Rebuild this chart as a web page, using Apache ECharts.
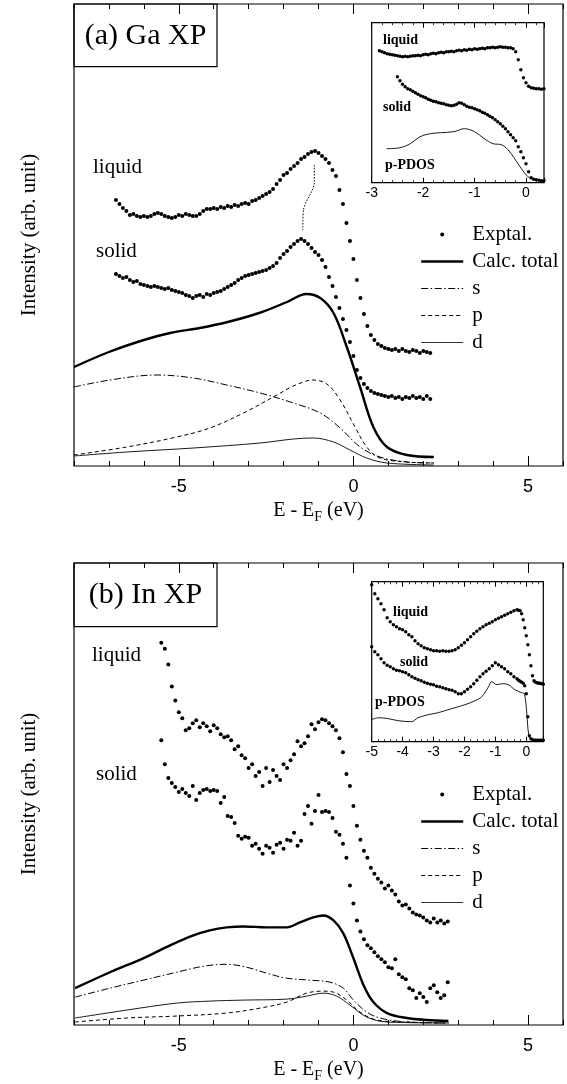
<!DOCTYPE html>
<html><head><meta charset="utf-8">
<script src="https://cdn.jsdelivr.net/npm/echarts@6/dist/echarts.min.js"></script>
<style>html,body{margin:0;padding:0;background:#fff}#c{width:567px;height:1084px}</style>
</head><body><div id="c"></div>
<script>
// ---------- Panel (a) Ga XP : experimental spectra (0.1 eV grid) ----------
const energyA = [-6.8,-6.7,-6.6,-6.5,-6.4,-6.3,-6.2,-6.1,-6.0,-5.9,-5.8,-5.7,-5.6,-5.5,-5.4,-5.3,-5.2,-5.1,-5.0,-4.9,-4.8,-4.7,-4.6,-4.5,-4.4,-4.3,-4.2,-4.1,-4.0,-3.9,-3.8,-3.7,-3.6,-3.5,-3.4,-3.3,-3.2,-3.1,-3.0,-2.9,-2.8,-2.7,-2.6,-2.5,-2.4,-2.3,-2.2,-2.1,-2.0,-1.9,-1.8,-1.7,-1.6,-1.5,-1.4,-1.3,-1.2,-1.1,-1.0,-0.9,-0.8,-0.7,-0.6,-0.5,-0.4,-0.3,-0.2,-0.1,0.0,0.1,0.2,0.3,0.4,0.5,0.6,0.7,0.8,0.9,1.0,1.1,1.2,1.3,1.4,1.5,1.6,1.7,1.8,1.9,2.0,2.1,2.2];
const liquidA = [266,262,258,255,251,252,250,249,250,249,250,252,253,252,250,249,248,249,251,250,252,251,250,250,252,255,257,257,258,257,259,258,260,259,261,260,262,263,262,265,266,268,270,272,274,277,282,286,291,293,297,300,303,307,309,312,314,315,313,310,307,303,296,290,276,262,243,225,207,186,168,152,140,131,126,122,120,118,117,116,117,115,117,115,114,116,115,113,115,114,113];
const solidA = [192,190,188,189,186,184,185,182,181,180,179,180,179,178,177,178,176,175,174,173,171,170,168,170,171,169,172,171,173,174,175,177,179,181,183,186,188,190,191,192,193,194,195,196,198,200,203,208,212,215,219,222,225,227,225,222,218,214,211,206,199,189,180,169,158,147,136,124,110,96,88,82,78,75,73,72,71,70,69,70,68,69,67,69,68,70,68,69,67,70,67];
// peak-shift guide (dotted)
const guideE = [-1.12,-1.12,-1.43,-1.45];
const guideI = [301,284,256,236];
// calculated DOS (a)
const totalAE = [-8,-7,-6,-5.25,-4.4,-3.6,-2.7,-1.9,-1.35,-0.95,-0.57,-0.19,0.19,0.57,0.96,1.53,2.3];
const totalAI = [99,114,126,133,138,144,153,164,172,168,153,119,79,39,19,11,9];
const sAE = [-8,-6.97,-5.63,-4.58,-3.63,-2.67,-1.72,-0.95,-0.38,0.19,0.76,1.53,2.3];
const sAI = [79,86,91,88,81,73,63,53,38,19,9,4,3];
const pAE = [-8,-6.49,-5.06,-4.11,-3.15,-2.19,-1.72,-1.15,-0.76,-0.38,0,0.38,0.76,1.53,2.3];
const pAI = [11,19,29,38,53,71,80,86,82,66,42,19,8,4,3];
const dAE = [-8,-6.49,-4.58,-2.67,-1.72,-1.15,-0.57,-0.1,0.38,0.96,2.3];
const dAI = [10,14,18,23,27,28,24,16,8,3,1];
// inset (a)
const insetEnergyA = [-2.85,-2.8,-2.75,-2.7,-2.65,-2.6,-2.55,-2.5,-2.45,-2.4,-2.35,-2.3,-2.25,-2.2,-2.15,-2.1,-2.05,-2.0,-1.95,-1.9,-1.85,-1.8,-1.75,-1.7,-1.65,-1.6,-1.55,-1.5,-1.45,-1.4,-1.35,-1.3,-1.25,-1.2,-1.15,-1.1,-1.05,-1.0,-0.95,-0.9,-0.85,-0.8,-0.75,-0.7,-0.65,-0.6,-0.55,-0.5,-0.45,-0.4,-0.35,-0.3,-0.25,-0.2,-0.15,-0.1,-0.05,0.0,0.05,0.1,0.15,0.2,0.25,0.3,0.35];
const insetLiquidA = [132,131,130,129,128.5,128,127.5,127,126.5,126,126.5,126,126.5,127,127,127.5,127,128,128.5,128,129,129.5,129,130,130.5,130,131,131,131.5,131,132,132.5,132,133,132.5,133.5,133,134,133.5,134,134.5,134,135,135,135.5,135,135.5,136,135.5,135.5,135,135,134,131,123,113,105,100,96.5,95,94.5,94,94,93.5,94];
const insetSolidA = [106,102,98.5,96,94,93,91.5,90,88.5,87,86,85,83.5,82.5,81.5,81,80,79.5,79,78,77.5,77,77.5,78.5,80,79.5,78,76.5,75.5,75,74,73,72,70.5,69.5,68,66.5,65,63,61,59,56.5,54,51,48,45,42,36,31,25,19,11,5,3.5,3,2.5,2,2];
const pdosAE = [-2.71,-2.45,-2.25,-2.06,-1.86,-1.66,-1.4,-1.2,-1.0,-0.81,-0.64,-0.48,-0.35,-0.22,-0.09,0.04,0.17,0.35];
const pdosAI = [34,35,39,46,49,50,51,54,51,44,39,38,33,24,14,6,3,2];

// ---------- Panel (b) In XP ----------
const energyB = [-5.5,-5.4,-5.3,-5.2,-5.1,-5.0,-4.9,-4.8,-4.7,-4.6,-4.5,-4.4,-4.3,-4.2,-4.1,-4.0,-3.9,-3.8,-3.7,-3.6,-3.5,-3.4,-3.3,-3.2,-3.1,-3.0,-2.9,-2.8,-2.7,-2.6,-2.5,-2.4,-2.3,-2.2,-2.1,-2.0,-1.9,-1.8,-1.7,-1.6,-1.5,-1.4,-1.3,-1.2,-1.1,-1.0,-0.9,-0.8,-0.7,-0.6,-0.5,-0.4,-0.3,-0.2,-0.1,0.0,0.1,0.2,0.3,0.4,0.5,0.6,0.7,0.8,0.9,1.0,1.1,1.2,1.3,1.4,1.5,1.6,1.7,1.8,1.9,2.0,2.1,2.2,2.3,2.4,2.5,2.6,2.7];
const liquidB = [384,378,362,340,326,314,308,296,298,303,306,299,303,300,295,301,298,292,289,290,286,277,280,271,268,258,262,250,254,240,258,244,256,250,246,262,258,266,272,285,280,283,290,302,297,304,307,306,303,300,296,288,274,252,240,220,200,186,175,168,158,152,147,143,137,140,135,131,124,120,121,117,113,111,110,108,105,103,107,103,105,102,104];
const solidB = [286,262,248,243,239,234,237,233,230,240,226,233,236,237,235,236,235,223,229,210,209,203,190,187,189,188,180,182,177,172,180,178,173,181,183,177,186,185,193,180,185,212,220,202,215,231,214,215,214,208,194,191,182,168,140,122,105,94,86,80,77,73,69,66,63,58,57,66,51,48,46,37,35,27,32,28,23,37,40,33,27,30,43];
const totalBE = [-7.97,-6.97,-6.02,-5.25,-4.58,-4.11,-3.63,-3.15,-2.48,-1.91,-1.53,-1.15,-0.86,-0.57,-0.29,0,0.29,0.57,0.96,1.53,2.1,2.72];
const totalBI = [37,53,67,80,90,95,98,99,98,98,103,108,110,105,92,67,40,23,12,7,5,4];
const sBE = [-7.97,-6.97,-6.02,-5.06,-4.3,-3.63,-3.05,-2.48,-1.91,-1.24,-0.67,-0.29,0,0.38,0.76,1.53,2.72];
const sBI = [28,37,45,53,59,61,58,52,47,45,43,37,25,13,7,3,2];
const pBE = [-7.97,-6.49,-5.06,-3.63,-2.67,-1.91,-1.34,-0.86,-0.57,-0.19,0.19,0.67,1.53,2.72];
const pBI = [3,7,9,12,17,23,32,34,33,25,13,5,3,2];
const dBE = [-7.97,-6.49,-5.06,-4.11,-3.15,-1.91,-1.34,-0.86,-0.48,-0.1,0.38,0.96,2.72];
const dBI = [7,15,22,24,25,26,29,32,29,20,8,3,2];
// inset (b)
const insetEnergyB = [-5.0,-4.9,-4.8,-4.7,-4.6,-4.5,-4.4,-4.3,-4.2,-4.1,-4.0,-3.9,-3.8,-3.7,-3.6,-3.5,-3.4,-3.3,-3.2,-3.1,-3.0,-2.9,-2.8,-2.7,-2.6,-2.5,-2.4,-2.3,-2.2,-2.1,-2.0,-1.9,-1.8,-1.7,-1.6,-1.5,-1.4,-1.3,-1.2,-1.1,-1.0,-0.9,-0.8,-0.7,-0.6,-0.5,-0.4,-0.3,-0.25,-0.2,-0.15,-0.1,-0.05,0.0,0.05,0.1,0.15,0.2,0.25,0.3,0.35,0.4,0.45,0.5,0.55];
const insetLiquidB = [157,148,143,138,132,124,120,117,115,113,112,110,107,105,101,98,96,94,93,92,91,91,90.5,91,90.5,90.5,91,92,94,96.5,99,102,105,108,110.5,113,115,117,118.5,120,122,123.5,125,126.5,128,129.5,131,132,131.5,131,128,122,114,106,97,87,76,66,61,59.5,59,58.5,58.5,58,57.5];
const insetSolidB = [95,90,87,83,79,76.5,75,73,71.5,71,70,69,67,65,63.5,62,61,59.5,58.5,57.5,57,55.5,55,54,53,52,51.5,50,48,48,50,52.5,55,58,61.5,65,68,70.5,73,76,79,77,75,73,70,68,65,63,61.5,60.5,59.5,58.5,56,48,25,6,3,2,1.5,1.5,1.5,1.5,1.5,1.5,1.5];
const pdosBE = [-5,-4.78,-4.46,-4.14,-3.71,-3.5,-3.17,-2.85,-2.42,-1.98,-1.66,-1.44,-1.22,-1.12,-0.95,-0.79,-0.58,-0.37,-0.15,-0.06,0.02,0.08,0.18,0.55];
const pdosBI = [22,24,23,21,20,24,27,29,33,37,41,45,55,60,57,58,57,52,49,48,27,7,2,2];

// tick labels
const mainTicks = [-5,0,5];
const legendNames = ['Exptal.','Calc. total','s','p','d'];

// ---------- build ----------
const SERIF = 'Liberation Serif';
const SANS = 'Liberation Sans';
const pairs = (xs, ys) => xs.map((x, i) => [x, ys[i]]);
const blk = '#000';
const dashDot = [7, 2.5, 1.5, 2.5];
const dashP = [4, 3];

function mainX(grid, pos, major, withLabel) {
  const ax = {
    gridIndex: grid, type: 'value', min: -8, max: 6, position: pos,
    axisLine: {show: false}, splitLine: {show: false},
    axisTick: {show: true, inside: true, length: major ? 10 : 5, lineStyle: {color: blk, width: 1}},
    axisLabel: {show: false}
  };
  if (major) {
    ax.axisTick.customValues = mainTicks;
    if (withLabel) {
      ax.axisLabel = {show: true, customValues: mainTicks, margin: 12, fontSize: 18, fontFamily: SANS, color: blk};
      ax.name = '{m|E - E}{sub|F}{m| (eV)}';
      ax.nameLocation = 'middle';
      ax.nameGap = 32;
      ax.nameTextStyle = {fontFamily: SERIF, fontSize: 20, color: blk, lineHeight: 26,
        rich: {
          m: {fontFamily: SERIF, fontSize: 20, lineHeight: 26, color: blk},
          sub: {fontFamily: SERIF, fontSize: 14, lineHeight: 14, verticalAlign: 'bottom', color: blk}
        }};
    }
  } else {
    ax.interval = 1;
  }
  return ax;
}
function insetX(grid, pos, min, max, withLabel) {
  return {
    gridIndex: grid, type: 'value', min: min, max: max, interval: 1, position: pos,
    axisLine: {show: false}, splitLine: {show: false},
    axisTick: {show: true, inside: true, length: 5, lineStyle: {color: blk, width: 1}},
    minorTick: {show: true, splitNumber: 5, length: 2.5, lineStyle: {color: blk, width: 0.8}},
    axisLabel: withLabel ? {show: true, margin: 3, fontSize: 14, fontFamily: SANS, color: blk, showMaxLabel: false} : {show: false}
  };
}
function yAx(grid, max, name) {
  const a = {gridIndex: grid, type: 'value', min: 0, max: max,
    axisLine: {show: false}, axisTick: {show: false}, axisLabel: {show: false}, splitLine: {show: false}};
  if (name) {
    a.name = name; a.nameLocation = 'middle'; a.nameGap = 34;
    a.nameTextStyle = {fontFamily: SERIF, fontSize: 21, color: blk};
  }
  return a;
}
function dots(xi, yi, xs, ys, size, name) {
  return {type: 'scatter', name: name || 'Exptal.', xAxisIndex: xi, yAxisIndex: yi, data: pairs(xs, ys),
    symbol: 'circle', symbolSize: size, itemStyle: {color: blk, opacity: 1}, silent: true, animation: false, z: 3};
}
function curve(xi, yi, xs, ys, name, width, type) {
  return {type: 'line', name: name, xAxisIndex: xi, yAxisIndex: yi, data: pairs(xs, ys),
    symbol: 'none', smooth: 0.35, lineStyle: {color: blk, width: width, type: type || 'solid'},
    itemStyle: {color: blk}, silent: true, animation: false, z: 2};
}

const option = {
  backgroundColor: '#fff',
  animation: false,
  textStyle: {fontFamily: SERIF},
  grid: [
    {left: 74, top: 4, width: 489, height: 462, show: true, borderColor: blk, borderWidth: 1.2, backgroundColor: 'transparent'},
    {left: 371.7, top: 22.7, width: 172.3, height: 160, show: true, borderColor: blk, borderWidth: 1.2, backgroundColor: '#fff'},
    {left: 74, top: 563, width: 489, height: 463.7, show: true, borderColor: blk, borderWidth: 1.2, backgroundColor: 'transparent'},
    {left: 371.7, top: 581.7, width: 171.6, height: 160, show: true, borderColor: blk, borderWidth: 1.2, backgroundColor: '#fff'}
  ],
  xAxis: [
    mainX(0, 'bottom', false), mainX(0, 'bottom', true, true), mainX(0, 'top', false), mainX(0, 'top', true, false),
    insetX(1, 'bottom', -3, 0.35, true), insetX(1, 'top', -3, 0.35, false),
    mainX(2, 'bottom', false), mainX(2, 'bottom', true, true), mainX(2, 'top', false), mainX(2, 'top', true, false),
    insetX(3, 'bottom', -5, 0.55, true), insetX(3, 'top', -5, 0.55, false)
  ],
  yAxis: [yAx(0, 462, 'Intensity (arb. unit)'), yAx(1, 160), yAx(2, 464, 'Intensity (arb. unit)'), yAx(3, 160)],
  legend: [0, 1].map(k => ({
    data: [
      {name: legendNames[0], icon: 'circle'},
      {name: legendNames[1], itemStyle: {opacity: 0}, lineStyle: {color: blk, width: 2.4, type: 'solid'}},
      {name: legendNames[2], itemStyle: {opacity: 0}, lineStyle: {color: blk, width: 1, type: dashDot}},
      {name: legendNames[3], itemStyle: {opacity: 0}, lineStyle: {color: blk, width: 1, type: dashP}},
      {name: legendNames[4], itemStyle: {opacity: 0}, lineStyle: {color: blk, width: 0.8, type: 'solid'}}
    ],
    orient: 'vertical', left: 415, top: k === 0 ? 216 : 776,
    itemWidth: 42, itemHeight: 4, itemGap: 0, selectedMode: false,
    textStyle: {fontFamily: SERIF, fontSize: 21, lineHeight: 27, color: blk, padding: [0, 0, 0, 4]}
  })),
  series: [
    dots(1, 0, energyA, liquidA, 4),
    dots(1, 0, energyA, solidA, 4),
    {type: 'line', name: 'guide', xAxisIndex: 1, yAxisIndex: 0, data: pairs(guideE, guideI), symbol: 'none', smooth: 0.3,
      lineStyle: {color: blk, width: 1, type: [1.5, 1.5]}, silent: true, z: 2},
    curve(1, 0, totalAE, totalAI, 'Calc. total', 2.4),
    curve(1, 0, sAE, sAI, 's', 1, dashDot),
    curve(1, 0, pAE, pAI, 'p', 1, dashP),
    curve(1, 0, dAE, dAI, 'd', 0.9),
    dots(4, 1, insetEnergyA, insetLiquidA, 3.4, 'inset liquid'),
    dots(4, 1, insetEnergyA.slice(7), insetSolidA, 3.4, 'inset solid'),
    curve(4, 1, pdosAE, pdosAI, 'p-PDOS', 0.9),
    dots(7, 2, energyB, liquidB, 4),
    dots(7, 2, energyB, solidB, 4),
    curve(7, 2, totalBE, totalBI, 'Calc. total', 2.4),
    curve(7, 2, sBE, sBI, 's', 1, dashDot),
    curve(7, 2, pBE, pBI, 'p', 1, dashP),
    curve(7, 2, dBE, dBI, 'd', 0.9),
    dots(10, 3, insetEnergyB, insetLiquidB, 3.4, 'inset liquid'),
    dots(10, 3, insetEnergyB, insetSolidB, 3.4, 'inset solid'),
    curve(10, 3, pdosBE, pdosBI, 'p-PDOS', 0.9)
  ],
  graphic: [
    {type: 'rect', shape: {x: 74, y: 4, width: 143, height: 62.7}, style: {fill: 'none', stroke: blk, lineWidth: 1.2}, z: 50},
    {type: 'text', x: 145.5, y: 36, style: {text: '(a) Ga XP', fontSize: 30, fontFamily: SERIF, fill: blk, align: 'center', verticalAlign: 'middle'}, z: 50},
    {type: 'rect', shape: {x: 74, y: 563, width: 143, height: 63.7}, style: {fill: 'none', stroke: blk, lineWidth: 1.2}, z: 50},
    {type: 'text', x: 145.5, y: 595.5, style: {text: '(b) In XP', fontSize: 30, fontFamily: SERIF, fill: blk, align: 'center', verticalAlign: 'middle'}, z: 50},
    {type: 'text', x: 93, y: 167, style: {text: 'liquid', fontSize: 21, fontFamily: SERIF, fill: blk, verticalAlign: 'middle'}},
    {type: 'text', x: 96, y: 251, style: {text: 'solid', fontSize: 21, fontFamily: SERIF, fill: blk, verticalAlign: 'middle'}},
    {type: 'text', x: 92, y: 655, style: {text: 'liquid', fontSize: 21, fontFamily: SERIF, fill: blk, verticalAlign: 'middle'}},
    {type: 'text', x: 96, y: 774, style: {text: 'solid', fontSize: 21, fontFamily: SERIF, fill: blk, verticalAlign: 'middle'}},
    {type: 'text', x: 383, y: 40, style: {text: 'liquid', fontSize: 14, fontWeight: 'bold', fontFamily: SERIF, fill: blk, verticalAlign: 'middle'}, z: 50},
    {type: 'text', x: 383, y: 107, style: {text: 'solid', fontSize: 14, fontWeight: 'bold', fontFamily: SERIF, fill: blk, verticalAlign: 'middle'}, z: 50},
    {type: 'text', x: 385, y: 165, style: {text: 'p-PDOS', fontSize: 14, fontWeight: 'bold', fontFamily: SERIF, fill: blk, verticalAlign: 'middle'}, z: 50},
    {type: 'text', x: 393, y: 612, style: {text: 'liquid', fontSize: 14, fontWeight: 'bold', fontFamily: SERIF, fill: blk, verticalAlign: 'middle'}, z: 50},
    {type: 'text', x: 400, y: 662, style: {text: 'solid', fontSize: 14, fontWeight: 'bold', fontFamily: SERIF, fill: blk, verticalAlign: 'middle'}, z: 50},
    {type: 'text', x: 375, y: 702, style: {text: 'p-PDOS', fontSize: 14, fontWeight: 'bold', fontFamily: SERIF, fill: blk, verticalAlign: 'middle'}, z: 50}
  ]
};
const chart = echarts.init(document.getElementById('c'), null, {renderer: 'canvas', width: 567, height: 1084});
chart.setOption(option);
</script></body></html>
